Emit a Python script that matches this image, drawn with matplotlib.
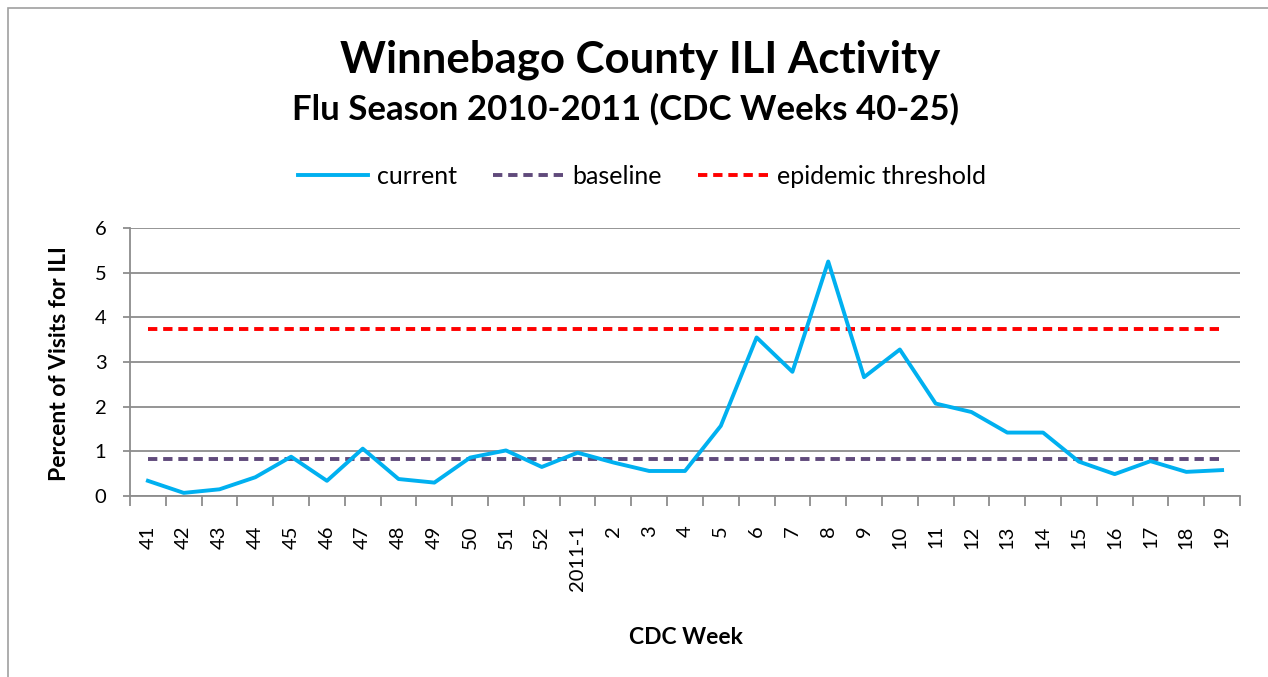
import matplotlib
matplotlib.use("Agg")
import matplotlib.pyplot as plt
from matplotlib.patches import Rectangle
import numpy as np

weeks = ["41", "42", "43", "44", "45", "46", "47", "48", "49", "50", "51", "52",
         "2011-1", "2", "3", "4", "5", "6", "7", "8", "9", "10", "11", "12",
         "13", "14", "15", "16", "17", "18", "19"]
current = [0.34, 0.07, 0.15, 0.42, 0.88, 0.34, 1.06, 0.38, 0.30, 0.86, 1.02, 0.65,
           0.97, 0.75, 0.56, 0.56, 1.57, 3.55, 2.78, 5.25, 2.66, 3.28, 2.07, 1.88,
           1.42, 1.42, 0.77, 0.49, 0.78, 0.54, 0.58]
baseline_value = 0.83
threshold_value = 3.73
baseline = [baseline_value] * len(weeks)
threshold = [threshold_value] * len(weeks)

plt.rcParams['font.family'] = ['Lato', 'DejaVu Sans']

W, H = 1268, 677
fig = plt.figure(figsize=(W / 100, H / 100), dpi=100)

# chart border
fig.patches.append(Rectangle((8 / W, -0.05), 1.1, (H - 8) / H + 0.05,
                             transform=fig.transFigure, fill=False,
                             edgecolor="#A0A0A0", linewidth=1.2))

ax = fig.add_axes([130 / W, (H - 496) / H, (1240 - 130) / W, (496 - 228) / H])
x = np.arange(len(weeks))

LW = 2.8
ax.plot(x, current, color="#00B0F0", lw=LW, label="current", zorder=3)
ax.plot(x, baseline, color="#604A7B", lw=LW, ls=(0, (2.4, 1.5)), label="baseline", zorder=2)
ax.plot(x, threshold, color="#FF0000", lw=LW, ls=(0, (2.4, 1.5)), label="epidemic threshold", zorder=2)

ax.set_xlim(-0.5, len(weeks) - 0.5)
ax.set_ylim(0, 6)
ax.set_yticks(range(0, 7))
ax.set_yticklabels([str(v) for v in range(0, 7)], fontsize=14.5)
ax.yaxis.grid(True, color="#8C8C8C", lw=1.3)
ax.set_axisbelow(True)

ax.set_xticks(x)
ax.set_xticklabels(weeks, rotation=90, fontsize=14.5)
ax.set_xticks(np.arange(-0.5, len(weeks)), minor=True)
ax.tick_params(axis="x", which="major", length=0, pad=21)
ax.tick_params(axis="x", which="minor", length=7, color="#8C8C8C", width=1.3)
ax.tick_params(axis="y", length=5, color="#8C8C8C", width=1.3, pad=12)

for s in ["top", "right"]:
    ax.spines[s].set_visible(False)
for s in ["left", "bottom"]:
    ax.spines[s].set_color("#8C8C8C")
    ax.spines[s].set_linewidth(1.3)

fig.text(640 / W, 1 - 60 / H, "Winnebago County ILI Activity", ha="center", va="center",
         fontsize=31.5, fontweight="bold")
fig.text(625 / W, 1 - 109 / H, "Flu Season 2010-2011 (CDC Weeks 40-25)", ha="center",
         va="center", fontsize=25, fontweight="bold")

fig.text(59 / W, 1 - 364 / H, "Percent of Visits for ILI", rotation=90, ha="center",
         va="center", fontsize=16.5, fontweight="bold")
fig.text(686 / W, 1 - 637 / H, "CDC Week", ha="center", va="center",
         fontsize=16.5, fontweight="bold")

fig.legend(loc="center", bbox_to_anchor=(642 / W, 1 - 176 / H), ncol=3, frameon=False,
           fontsize=18, handlelength=2.8, columnspacing=1.45, handletextpad=0.35)

fig.savefig("out.png", dpi=100)
